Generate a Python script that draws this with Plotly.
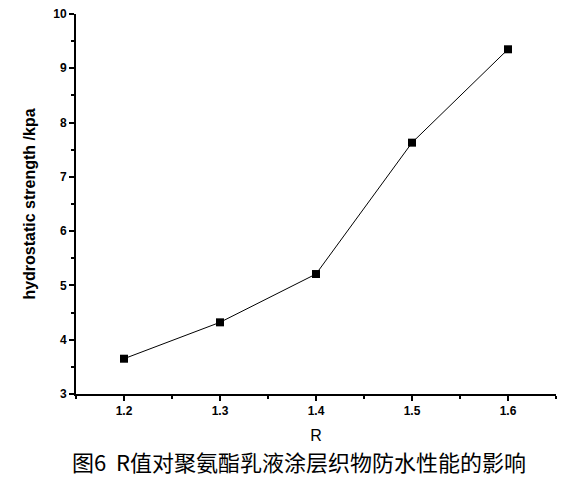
import plotly.graph_objects as go

# R values and hydrostatic strength readings
r_values = [1.2, 1.3, 1.4, 1.5, 1.6]
strength_kpa = [3.65, 4.32, 5.21, 7.63, 9.35]

x_ticks = [1.2, 1.3, 1.4, 1.5, 1.6]
y_ticks = [3, 4, 5, 6, 7, 8, 9, 10]

caption = "图6  R值对聚氨酯乳液涂层织物防水性能的影响"

fig = go.Figure()

fig.add_trace(go.Scatter(
    x=r_values, y=strength_kpa, mode="lines+markers",
    line=dict(color="black", width=1),
    marker=dict(symbol="square", size=8, color="black"),
    showlegend=False,
))

axis_font = dict(family="Liberation Sans, Arial", size=12, color="black", weight="bold")

fig.update_xaxes(
    range=[1.15, 1.65], tickvals=x_ticks, ticktext=[str(v) for v in x_ticks],
    showline=True, linecolor="black", linewidth=2, mirror=False,
    ticks="outside", ticklen=5, tickwidth=1.5, tickcolor="black",
    minor=dict(dtick=0.05, tick0=1.15, ticks="outside", ticklen=3, tickcolor="black"),
    showgrid=False, zeroline=False, tickfont=axis_font, automargin=False,
    title=dict(text="R", font=dict(family="Liberation Sans, Arial", size=16, color="black"), standoff=12),
)
fig.update_yaxes(
    range=[3, 10], tickvals=y_ticks,
    showline=True, linecolor="black", linewidth=2, mirror=False,
    ticks="outside", ticklen=5, tickwidth=1.5, tickcolor="black",
    minor=dict(dtick=0.5, ticks="outside", ticklen=3, tickcolor="black"),
    showgrid=False, zeroline=False, tickfont=axis_font, automargin=False,
    ticklabeloverflow="allow",
    title=dict(text="<b>hydrostatic strength /kpa</b>", font=dict(family="Liberation Sans, Arial", size=16, color="black"), standoff=14),
)

fig.add_annotation(
    text=caption, xref="paper", yref="paper", x=0.465, y=-0.13,
    xanchor="center", yanchor="top", showarrow=False,
    font=dict(family="Noto Sans CJK SC", size=22, color="black"),
)

# page body has an 8px margin, so the figure is drawn a bit smaller than the window
fig.update_layout(
    width=580, height=476,
    margin=dict(l=68, r=32, t=6, b=90, autoexpand=False),
    plot_bgcolor="white", paper_bgcolor="white",
)

fig.write_html("out.html")
